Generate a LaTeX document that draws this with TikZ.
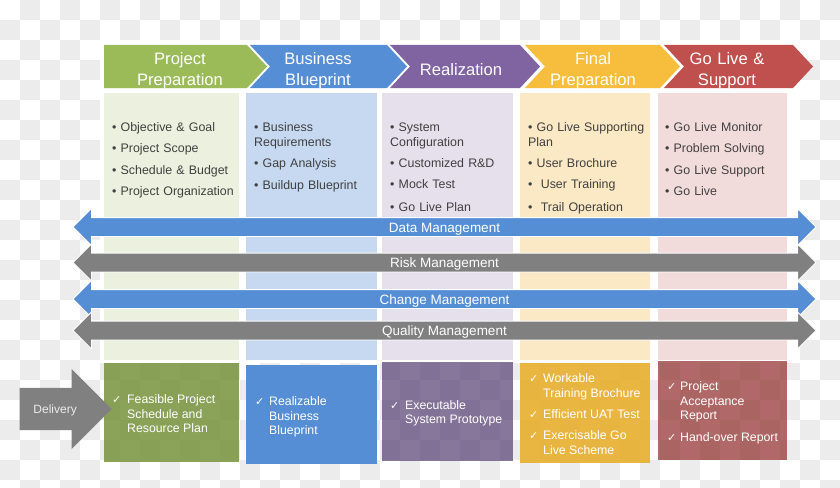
\documentclass[tikz,border=0pt]{standalone}
\usepackage{fontspec}
\setmainfont{Liberation Sans}
\newfontfamily\checkfont{DejaVu Sans}
\usetikzlibrary{shapes.arrows}

\definecolor{checkgray}{RGB}{236,236,236}
\definecolor{greenhead}{RGB}{155,187,89}
\definecolor{bluehead}{RGB}{85,142,213}
\definecolor{purplehead}{RGB}{128,100,162}
\definecolor{yellowhead}{RGB}{246,190,60}
\definecolor{redhead}{RGB}{192,80,77}
\definecolor{greenlight}{RGB}{235,241,222}
\definecolor{bluelight}{RGB}{198,217,241}
\definecolor{purplelight}{RGB}{229,224,236}
\definecolor{yellowlight}{RGB}{251,232,196}
\definecolor{redlight}{RGB}{242,220,219}
\definecolor{greenbox}{RGB}{119,147,60}
\definecolor{purplebox}{RGB}{95,73,122}
\definecolor{yellowbox}{RGB}{232,174,46}
\definecolor{redbox}{RGB}{149,55,53}
\definecolor{bandgray}{RGB}{128,128,128}
\definecolor{textgray}{RGB}{64,64,64}

\newcommand{\chk}{{\checkfont\fontsize{11}{11}\selectfont ✓}}

\tikzset{
  phasetext/.style={anchor=base, inner sep=0pt, text width=150pt, align=center,
    text=white, font=\fontsize{16.6}{21}\selectfont},
  tasklist/.style={anchor=base west, inner sep=0pt, text width=135pt, align=left,
    text=textgray, font=\fontsize{12.4}{15}\selectfont},
  outcome/.style={anchor=base west, inner sep=0pt, text=white,
    font=\fontsize{12.3}{14.5}\selectfont},
  band/.style={double arrow, double arrow head extend=9pt, minimum height=743pt,
    inner xsep=0pt, inner ysep=4pt, text height=10pt, text depth=0pt,
    draw=white, line width=0.8pt, text=white, font=\fontsize{13.5}{16}\selectfont}
}

\begin{document}
\begin{tikzpicture}[x=1pt,y=-1pt]
  \useasboundingbox (0,0) rectangle (840,487);
  \clip (0,0) rectangle (840,487);

  % checkered backdrop
  \foreach \i in {0,2,...,40} {
    \foreach \j in {0,2,...,24} {
      \fill[checkgray] (\i*20+20,\j*20) rectangle ++(20,20);
      \fill[checkgray] (\i*20,\j*20+20) rectangle ++(20,20);
    }
  }
  \fill[white] (100,40) rectangle (800,363);

  % phase chevrons
  \fill[greenhead] (104,45) -- (247,45) -- (267,66.5) -- (247,88) -- (104,88) -- cycle;
  \foreach \xa/\xb/\col in {250/387/bluehead, 390/520/purplehead, 525/660/yellowhead, 664/793/redhead}
    \fill[\col] (\xa,45) -- (\xb,45) -- (\xb+20,66.5) -- (\xb,88) -- (\xa,88) -- (\xa+20,66.5) -- cycle;

  % task columns
  \foreach \xa/\xb/\col in {104/239/greenlight, 246/377/bluelight, 382/513/purplelight, 520/650/yellowlight, 658/787/redlight}
    \fill[\col] (\xa,93) rectangle (\xb,360);

  % delivery boxes
  \fill[greenbox, fill opacity=0.85] (104,363) rectangle (239,462);
  \fill[bluehead] (246,365) rectangle (377,464);
  \fill[purplebox, fill opacity=0.75] (382,362) rectangle (513,461);
  \fill[yellowbox, fill opacity=0.9] (520,363) rectangle (650,463);
  \fill[redbox, fill opacity=0.75] (658,361) rectangle (787,460);

  % phase names
  \node[phasetext] (prep) at (180,64) {Project\\Preparation};
  \node[phasetext] (blueprint) at (318,64) {Business\\Blueprint};
  \node[phasetext] (real) at (461,75) {Realization};
  \node[phasetext] (final) at (593,64) {Final\\Preparation};
  \node[phasetext] (golive) at (727,64) {Go Live \&\\Support};

  % tasks
  \node[tasklist] (tasks1) at (112,131.5) {• Objective \& Goal\\[6.3pt] • Project Scope\\[6.3pt]
    • Schedule \& Budget\\[6.3pt] • Project Organization};
  \node[tasklist] (tasks2) at (254,131.5) {• Business\\ Requirements\\[6.1pt] • Gap Analysis\\[6.6pt]
    • Buildup Blueprint};
  \node[tasklist] (tasks3) at (390,131.5) {• System\\ Configuration\\[6.1pt] • Customized R\&D\\[6.3pt]
    • Mock Test\\[7.6pt] • Go Live Plan};
  \node[tasklist] (tasks4) at (528,131.5) {• Go Live Supporting\\ Plan\\[6.1pt] • User Brochure\\[6.3pt]
    • \ User Training\\[7.6pt] • \ Trail Operation};
  \node[tasklist] (tasks5) at (665,131.5) {• Go Live Monitor\\[6.3pt] • Problem Solving\\[6.3pt]
    • Go Live Support\\[6.3pt] • Go Live};

  % management bands
  \node[band, fill=bluehead] (data) at (444.5,227) {Data Management};
  \node[band, fill=bandgray] (risk) at (444.5,262.5) {Risk Management};
  \node[band, fill=bluehead] (change) at (444.5,299) {Change Management};
  \node[band, fill=bandgray] (quality) at (444.5,330.5) {Quality Management};

  % delivery
  \node[single arrow, fill=bandgray, minimum height=92pt, single arrow head extend=19pt,
    inner xsep=0pt, inner ysep=16.5pt, text height=9pt, text depth=0pt, anchor=tip,
    text=white!92!black, font=\fontsize{12}{14}\selectfont] (delivery) at (112,409) {Delivery};

  \node[outcome] (out1) at (112,403.5) {\begin{tabular}[t]{@{}p{15pt}@{}l@{}}
    \chk & Feasible Project\\ & Schedule and\\ & Resource Plan\end{tabular}};
  \node[outcome] (out2) at (255,405.5) {\begin{tabular}[t]{@{}p{14pt}@{}l@{}}
    \chk & Realizable\\ & Business\\ & Blueprint\end{tabular}};
  \node[outcome] (out3) at (390,409) {\begin{tabular}[t]{@{}p{15pt}@{}l@{}}
    \chk & Executable\\ & System Prototype\end{tabular}};
  \node[outcome] (out4) at (529,382.5) {\begin{tabular}[t]{@{}p{14pt}@{}l@{}}
    \chk & Workable\\ & Training Brochure\\[6.5pt] \chk & Efficient UAT Test\\[7pt]
    \chk & Exercisable Go\\ & Live Scheme\end{tabular}};
  \node[outcome] (out5) at (667,390.5) {\begin{tabular}[t]{@{}p{13pt}@{}l@{}}
    \chk & Project\\ & Acceptance\\ & Report\\[7.5pt] \chk & Hand-over Report\end{tabular}};
\end{tikzpicture}
\end{document}
